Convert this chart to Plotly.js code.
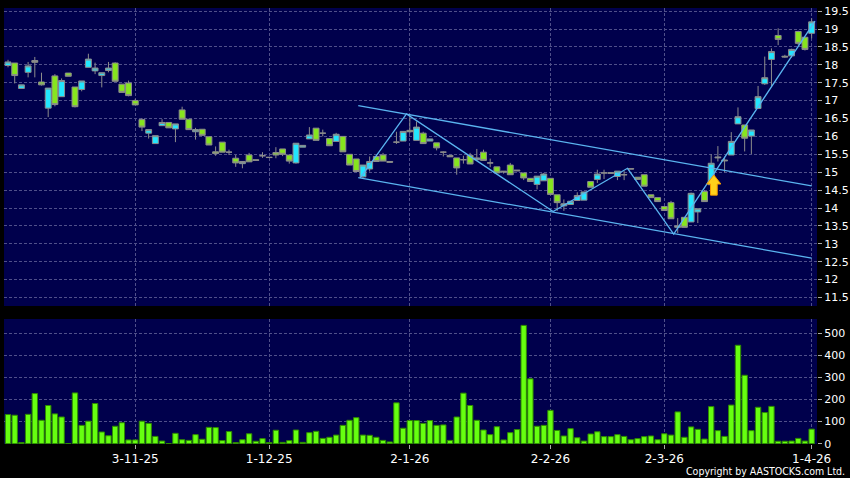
<!DOCTYPE html>
<html>
<head>
<meta charset="utf-8">
<script src="https://cdn.plot.ly/plotly-3.0.1.min.js"></script>
<style>
html,body{margin:0;padding:0;background:#000;}
#chart{width:850px;height:478px;}
</style>
</head>
<body>
<div id="chart"></div>
<script>
// ---- data (index = trading day, 0 .. 120) ----
var openP  = [17.98,18.05,17.34,17.79,18.12,17.52,16.79,17.69,17.11,17.77,17.38,17.31,17.93,17.83,17.70,17.84,18.05,17.46,17.49,17.00,
              16.47,16.09,15.80,16.30,16.39,16.21,16.74,16.48,16.13,16.20,15.99,15.57,15.84,15.56,15.39,15.24,15.48,15.35,15.46,15.42,
              15.55,15.65,15.48,15.26,15.70,15.93,16.23,16.09,15.94,15.86,16.00,15.50,15.37,14.87,15.09,15.44,15.48,15.30,15.84,15.87,
              16.17,15.89,16.09,15.87,15.82,15.56,15.47,15.40,15.35,15.47,15.35,15.56,15.26,15.15,15.03,15.20,15.06,14.98,14.83,14.66,
              14.76,14.83,14.37,14.06,14.10,14.21,14.22,14.74,14.80,14.98,14.99,14.88,14.93,15.10,14.86,14.93,14.37,14.29,14.04,14.15,
              13.46,13.74,13.61,13.89,14.46,14.65,15.40,15.34,15.48,16.35,16.32,16.01,16.78,17.47,18.15,18.82,18.24,18.25,18.93,18.77,18.88];
var highP  = [18.14,18.05,17.44,18.08,18.22,17.78,17.35,17.74,17.62,17.77,17.38,17.55,18.31,18.06,17.78,18.08,18.07,17.46,17.56,17.05,
              16.51,16.19,16.02,16.48,16.39,16.35,16.83,16.48,16.24,16.20,15.99,15.72,15.84,15.63,15.48,15.30,15.54,15.35,15.56,15.42,
              15.70,15.65,15.48,15.81,15.75,16.26,16.23,16.19,15.94,16.10,16.00,15.50,15.37,15.20,15.44,15.44,15.54,15.30,16.13,16.14,
              16.63,16.42,16.13,15.93,15.82,15.58,15.47,15.40,15.46,15.54,15.65,15.63,15.38,15.15,15.03,15.26,15.06,14.98,14.83,14.89,
              14.98,14.83,14.37,14.24,14.19,14.44,14.45,14.74,15.07,15.07,14.99,15.03,15.03,15.10,14.86,14.93,14.37,14.29,14.04,14.20,
              13.72,13.74,14.43,13.98,14.50,15.50,15.73,15.43,16.12,16.81,16.32,16.18,17.41,18.23,18.46,19.02,18.28,18.45,18.95,18.77,19.30];
var lowP   = [17.93,17.48,17.34,17.65,17.65,17.42,16.54,16.84,17.11,17.68,16.81,17.26,17.93,17.74,17.37,17.79,17.54,17.23,17.12,16.88,
              16.15,15.94,15.80,16.30,16.24,15.84,16.48,16.19,15.91,16.03,15.76,15.46,15.56,15.48,15.15,15.11,15.29,15.33,15.40,15.41,
              15.39,15.45,15.24,15.24,15.70,15.93,15.89,16.00,15.74,15.86,15.57,15.20,15.02,14.84,15.02,15.30,15.31,15.28,15.79,15.87,
              16.09,15.89,15.80,15.87,15.61,15.44,15.43,14.93,15.24,15.23,15.31,15.33,15.14,14.98,14.96,14.93,15.04,14.78,14.74,14.52,
              14.76,14.38,13.92,13.92,14.10,14.21,14.22,14.58,14.70,14.81,14.97,14.78,14.78,15.09,14.80,14.61,14.29,14.18,13.93,13.70,
              13.30,13.46,13.61,13.58,14.18,14.65,15.30,15.00,15.48,16.35,15.58,15.51,16.78,17.44,17.41,18.55,18.20,18.20,18.55,18.40,18.74];
var closeP = [18.08,17.70,17.44,17.97,18.07,17.44,17.35,16.89,17.56,17.68,16.83,17.55,18.16,17.91,17.78,17.91,17.54,17.23,17.14,16.88,
              16.26,16.19,16.02,16.39,16.24,16.35,16.48,16.19,16.19,16.03,15.76,15.52,15.56,15.56,15.26,15.30,15.29,15.33,15.46,15.41,
              15.48,15.50,15.31,15.81,15.75,16.04,15.89,16.09,15.74,16.06,15.57,15.20,15.02,15.20,15.30,15.30,15.31,15.28,15.84,16.14,
              16.13,16.26,15.80,15.93,15.68,15.56,15.43,15.12,15.35,15.23,15.40,15.33,15.26,14.98,15.01,14.93,15.04,14.84,14.74,14.89,
              14.95,14.38,14.15,14.12,14.19,14.35,14.45,14.58,14.95,14.98,14.97,15.03,14.93,15.09,14.80,14.61,14.29,14.18,13.93,13.70,
              13.50,13.46,14.41,13.98,14.18,15.25,15.42,15.32,15.86,16.55,15.95,16.18,17.11,17.64,18.37,18.71,18.22,18.43,18.60,18.43,19.20];
var volume = [132,129,5,133,227,106,173,135,121,1,230,83,102,182,53,36,79,95,17,17,
              102,92,33,12,0,47,18,15,41,20,74,73,14,55,5,18,45,11,23,5,
              61,6,14,62,6,50,56,24,29,39,83,106,118,39,38,29,15,8,185,70,
              105,105,92,105,83,85,15,121,229,173,106,62,41,77,17,50,64,536,294,79,
              83,151,60,35,68,27,12,44,54,32,32,41,33,18,23,32,35,18,45,39,
              144,29,76,65,21,168,59,33,175,446,310,59,165,141,169,11,11,12,24,12,66];
var tickIdx    = [19, 39, 60, 81, 98, 120];
var tickLabels = ["3-11-25", "1-12-25", "2-1-26", "2-2-26", "2-3-26", "1-4-26"];
// trend lines drawn on the chart (index, price)
var chanUpX = [52.3, 120],  chanUpY = [16.86, 14.62];
var chanLoX = [52.3, 120],  chanLoY = [14.85, 12.60];
var zigX = [52.6, 59.5, 81.4, 92.5, 99.4, 120.5];
var zigY = [14.84, 16.63, 13.90, 15.11, 13.27, 19.22];
// buy arrow (index, tip price, head-base price, tail price)
var arrowIdx = 105.4, arrowTip = 14.92, arrowHead = 14.67, arrowTail = 14.36;

var idx = openP.map(function(_, i){ return i; });

var lineCol = '#5ab4f0';
var traces = [
  {type:'candlestick', x:idx, open:openP, high:highP, low:lowP, close:closeP,
   xaxis:'x', yaxis:'y', whiskerwidth:0, hoverinfo:'skip',
   increasing:{line:{color:'#8c8c8c', width:1}, fillcolor:'#22e6ff'},
   decreasing:{line:{color:'#8c8c8c', width:1}, fillcolor:'#86e51e'}},
  {type:'scatter', mode:'lines', x:chanUpX, y:chanUpY, xaxis:'x', yaxis:'y',
   line:{color:lineCol, width:1.3}, hoverinfo:'skip'},
  {type:'scatter', mode:'lines', x:chanLoX, y:chanLoY, xaxis:'x', yaxis:'y',
   line:{color:lineCol, width:1.3}, hoverinfo:'skip'},
  {type:'scatter', mode:'lines', x:zigX, y:zigY, xaxis:'x', yaxis:'y',
   line:{color:lineCol, width:1.3}, hoverinfo:'skip'},
  {type:'bar', x:idx, y:volume, xaxis:'x', yaxis:'y2', hoverinfo:'skip',
   marker:{color:'#66ff10', line:{color:'#2f8a00', width:1}}}
];

var hw = 1.05, sw = 0.5;
var arrowPath = 'M ' + arrowIdx + ',' + arrowTip +
  ' L ' + (arrowIdx + hw) + ',' + arrowHead +
  ' L ' + (arrowIdx + sw) + ',' + arrowHead +
  ' L ' + (arrowIdx + sw) + ',' + arrowTail +
  ' L ' + (arrowIdx - sw) + ',' + arrowTail +
  ' L ' + (arrowIdx - sw) + ',' + arrowHead +
  ' L ' + (arrowIdx - hw) + ',' + arrowHead + ' Z';

var gridCol = '#50508a';
var gridDash = '3px,2px';
var layout = {
  width:850, height:478,
  paper_bgcolor:'#000000', plot_bgcolor:'#00004c',
  margin:{l:4, r:33, t:8, b:34},
  showlegend:false, boxgap:0.12, boxgroupgap:0, bargap:0.2,
  font:{family:'DejaVu Sans', color:'#ffffff'},
  xaxis:{range:[-0.6, 120.8], tickvals:tickIdx, ticktext:tickLabels,
         anchor:'y2', rangeslider:{visible:false},
         showgrid:true, gridcolor:gridCol, griddash:gridDash, gridwidth:1,
         ticks:'outside', ticklen:4, tickcolor:'#aaaaaa',
         tickfont:{size:12, color:'#ffffff'}, zeroline:false, showline:false, fixedrange:true},
  yaxis:{domain:[0.3165, 1], range:[11.263, 19.587], side:'right', anchor:'x',
         tick0:0, dtick:0.5, showgrid:true, gridcolor:gridCol, griddash:gridDash, gridwidth:1,
         ticks:'outside', ticklen:4, tickcolor:'#aaaaaa',
         tickfont:{size:11, color:'#ffffff'}, zeroline:false, showline:false},
  yaxis2:{domain:[0, 0.2867], range:[-1.4, 565], side:'right', anchor:'x',
          tick0:0, dtick:100, showgrid:true, gridcolor:gridCol, griddash:gridDash, gridwidth:1,
          ticks:'outside', ticklen:4, tickcolor:'#aaaaaa',
          tickfont:{size:11, color:'#ffffff'}, zeroline:false, showline:false},
  shapes:[{type:'path', xref:'x', yref:'y', path:arrowPath,
           fillcolor:'#ffd21a', line:{color:'#f39a00', width:1}}],
  annotations:[{text:'Copyright by AASTOCKS.com Ltd.', xref:'paper', yref:'paper',
                x:1.0357, y:-0.0785, xanchor:'right', yanchor:'bottom', showarrow:false,
                borderpad:0,
                font:{size:10.5, color:'#ffffff', family:'DejaVu Sans Condensed, DejaVu Sans'}}]
};

Plotly.newPlot('chart', traces, layout, {staticPlot:true, displayModeBar:false});
</script>
</body>
</html>
